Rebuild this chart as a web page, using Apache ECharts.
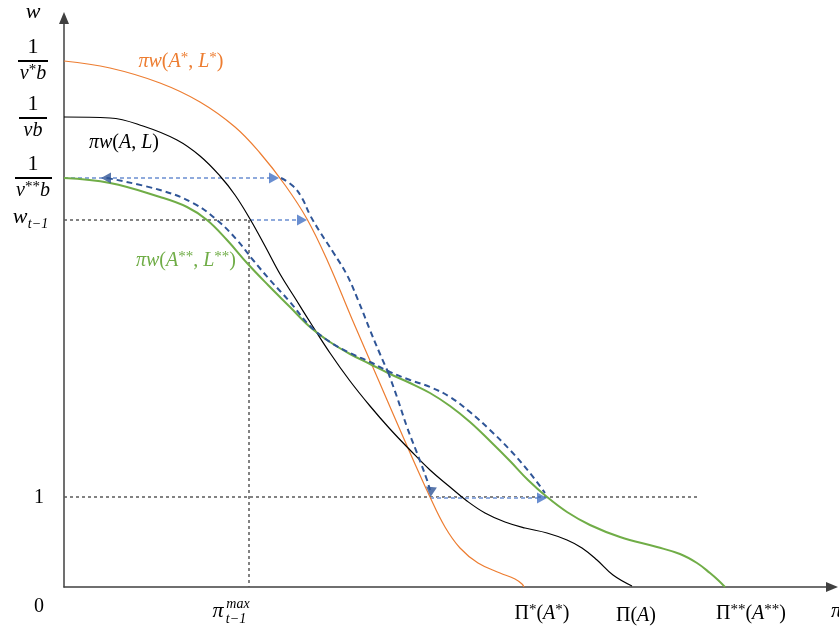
<!DOCTYPE html>
<html><head><meta charset="utf-8">
<script src="https://cdn.jsdelivr.net/npm/echarts@6/dist/echarts.min.js"></script>
<style>html,body{margin:0;padding:0;background:#fff}#c{width:839px;height:631px}</style>
</head><body><div id="c"></div>
<script>
// Curves (x: output units from origin, y: wage units from origin)
const curveStar = [[0,526],[46,519],[96,504],[136,485],[171,460],[196,434],[221,402],[243,368],[264,325],[288,268],[314,208],[340,148],[366,90],[381,60],[396,39],[414,24],[436,14],[451,8],[458,3],[460,0]];
const curveBase = [[0,470],[46,469],[79,461],[113,447],[136,431],[156,411],[171,392],[186,368],[201,341],[216,313],[231,289],[246,265],[266,234],[286,206],[306,181],[326,158],[346,137],[366,117],[386,100],[403,86],[421,74],[441,65],[461,59],[483,54],[503,47],[518,39],[533,27],[549,12],[568,1]];
const curveStar2 = [[0,409],[46,404],[96,390],[123,380],[143,367],[163,347],[183,324],[204,302],[226,280],[246,260],[266,245],[286,233],[306,223],[326,213],[346,204],[366,194],[386,181],[406,165],[426,146],[446,126],[464,107],[483,90],[503,75],[526,62],[556,50],[593,40],[616,33],[633,24],[646,14],[654,7],[661,0]];
const pathLower = [[43,409],[96,397],[129,384],[153,367],[173,347],[189,327],[206,307],[226,285],[246,261],[266,245],[286,234],[306,225],[326,215],[346,207],[366,200],[386,190],[406,175],[426,157],[446,137],[466,114],[481,94]];
const pathUpperA = [[217,409],[229,401],[238,389],[246,372],[256,355],[269,335],[283,312],[294,287],[306,257],[316,233],[324,215]];
const pathUpperB = [[324,215],[333,190],[343,160],[353,134],[363,107],[366,97]];
// Reference levels
const levels = { wStar: 526, wBase: 469, wStar2: 409, wPrev: 367, one: 90 };
const piMaxPrev = 185;
const guideBlue = [ [[0,409],[206,409]], [[186,367],[234,367]], [[366,89],[474,89]] ];
const guideGray = [ [[0,367],[185,367]], [[185,367],[185,0]], [[0,90],[633,90]] ];
const arrowsDark = [ {value:[42,409], rot:90}, {value:[367,95], rot:175} ];
const arrowsMid = [ {value:[210,409], rot:-90}, {value:[238,367], rot:-90}, {value:[478,89], rot:-90} ];

const chart = echarts.init(document.getElementById('c'));
const FONT = 'Liberation Serif';
const series = [];
guideGray.forEach(d => series.push({type:'line', data:d, symbol:'none', silent:true, z:1,
  lineStyle:{color:'#595959', width:1.5, type:[3,3]}}));
guideBlue.forEach(d => series.push({type:'line', data:d, symbol:'none', silent:true, z:2,
  lineStyle:{color:'#8faadc', width:1.8, type:[4,3]}}));
const sm = {smooth:0.4, symbol:'none'};
series.push(Object.assign({type:'line', data:curveStar, lineStyle:{color:'#ed7d31', width:1.2}, z:3}, sm));
series.push(Object.assign({type:'line', data:curveBase, lineStyle:{color:'#000000', width:1.2}, z:3}, sm));
series.push(Object.assign({type:'line', data:curveStar2, lineStyle:{color:'#70ad47', width:2}, z:3}, sm));
[pathLower, pathUpperA, pathUpperB].forEach(d => series.push(Object.assign({type:'line', data:d,
  lineStyle:{color:'#2f5597', width:2, type:[6,4]}, z:4}, sm)));
series.push({type:'scatter', data:arrowsDark.map(a=>({value:a.value, symbolRotate:a.rot})), symbol:'triangle', symbolSize:[11,10], itemStyle:{color:'#2f5597'}, z:5});
series.push({type:'scatter', data:arrowsMid.map(a=>({value:a.value, symbolRotate:a.rot})), symbol:'triangle', symbolSize:[11,10], itemStyle:{color:'#4472c4'}, z:5});

const axisCommon = {type:'value', axisTick:{show:false}, axisLabel:{show:false}, splitLine:{show:false},
  axisLine:{show:true, symbol:['none','triangle'], symbolSize:[10,12], lineStyle:{color:'#404040', width:1.5}}};
chart.setOption({
  animation:false,
  grid:{left:64, right:7, top:18, bottom:44},
  xAxis:Object.assign({min:0, max:768}, axisCommon),
  yAxis:Object.assign({min:0, max:569}, axisCommon),
  series
});

function py(v){ return chart.convertToPixel({gridIndex:0}, [0, v])[1]; }
function px(v){ return chart.convertToPixel({gridIndex:0}, [v, 0])[0]; }
const rich = {
  u:{fontFamily:FONT, fontSize:20, fill:'#000'},
  i:{fontFamily:FONT, fontSize:20, fontStyle:'italic', fill:'#000'},
  s:{fontFamily:FONT, fontSize:15, fill:'#000', padding:[0,0,8,0]}
};
function txt(x, y, t, size, opts){
  return {type:'text', z:10, style:Object.assign({x, y, text:t, fontFamily:FONT, fontSize:size,
    fill:'#000', align:'center', verticalAlign:'middle'}, opts||{})};
}
function richTxt(x, y, t, color){
  const r = {};
  Object.keys(rich).forEach(k => r[k] = Object.assign({}, rich[k], {fill:color||'#000'}));
  return {type:'text', z:10, style:{x, y, text:t, rich:r, fill:color||'#000', align:'center', verticalAlign:'middle'}};
}
function frac(cx, yv, den, x0, x1){
  const y = py(yv);
  return [
    txt(cx, y-14, '1', 22),
    {type:'line', z:10, shape:{x1:x0, y1:y, x2:x1, y2:y}, style:{stroke:'#000', lineWidth:2}},
    richTxt(cx, y+13, den)
  ];
}
const g = [];
g.push(txt(33, 12, 'w', 22, {fontStyle:'italic'}));
g.push(...frac(33, levels.wStar, '{i|v}{s|*}{i|b}', 18, 48));
g.push(...frac(33, levels.wBase, '{i|vb}', 19, 47));
g.push(...frac(33, levels.wStar2, '{i|v}{s|**}{i|b}', 15, 52));
g.push(txt(20, py(levels.wPrev)-3, 'w', 22, {fontStyle:'italic'}));
g.push(txt(38, py(levels.wPrev)+4, 't−1', 14, {fontStyle:'italic'}));
g.push(txt(39, py(levels.one)+1, '1', 20));
g.push(txt(39, 607, '0', 20));
const xp = px(piMaxPrev);
g.push(txt(xp-31, 611, 'π', 22, {fontStyle:'italic'}));
g.push(txt(xp-11, 604, 'max', 14, {fontStyle:'italic'}));
g.push(txt(xp-13, 619, 't−1', 14, {fontStyle:'italic'}));
g.push(richTxt(542, 614, '{u|Π}{s|*}{u|(}{i|A}{s|*}{u|)}'));
g.push(richTxt(636, 616, '{u|Π(}{i|A}{u|)}'));
g.push(richTxt(751, 614, '{u|Π}{s|**}{u|(}{i|A}{s|**}{u|)}'));
g.push(txt(831, 611, 'π', 22, {fontStyle:'italic', align:'left'}));
g.push(richTxt(181, 62, '{i|πw}{u|(}{i|A}{s|*}{u|, }{i|L}{s|*}{u|)}', '#ed7d31'));
g.push(richTxt(124, 143, '{i|πw}{u|(}{i|A}{u|, }{i|L}{u|)}', '#000'));
g.push(richTxt(186, 261, '{i|πw}{u|(}{i|A}{s|**}{u|, }{i|L}{s|**}{u|)}', '#70ad47'));
chart.setOption({graphic:g});
</script></body></html>
